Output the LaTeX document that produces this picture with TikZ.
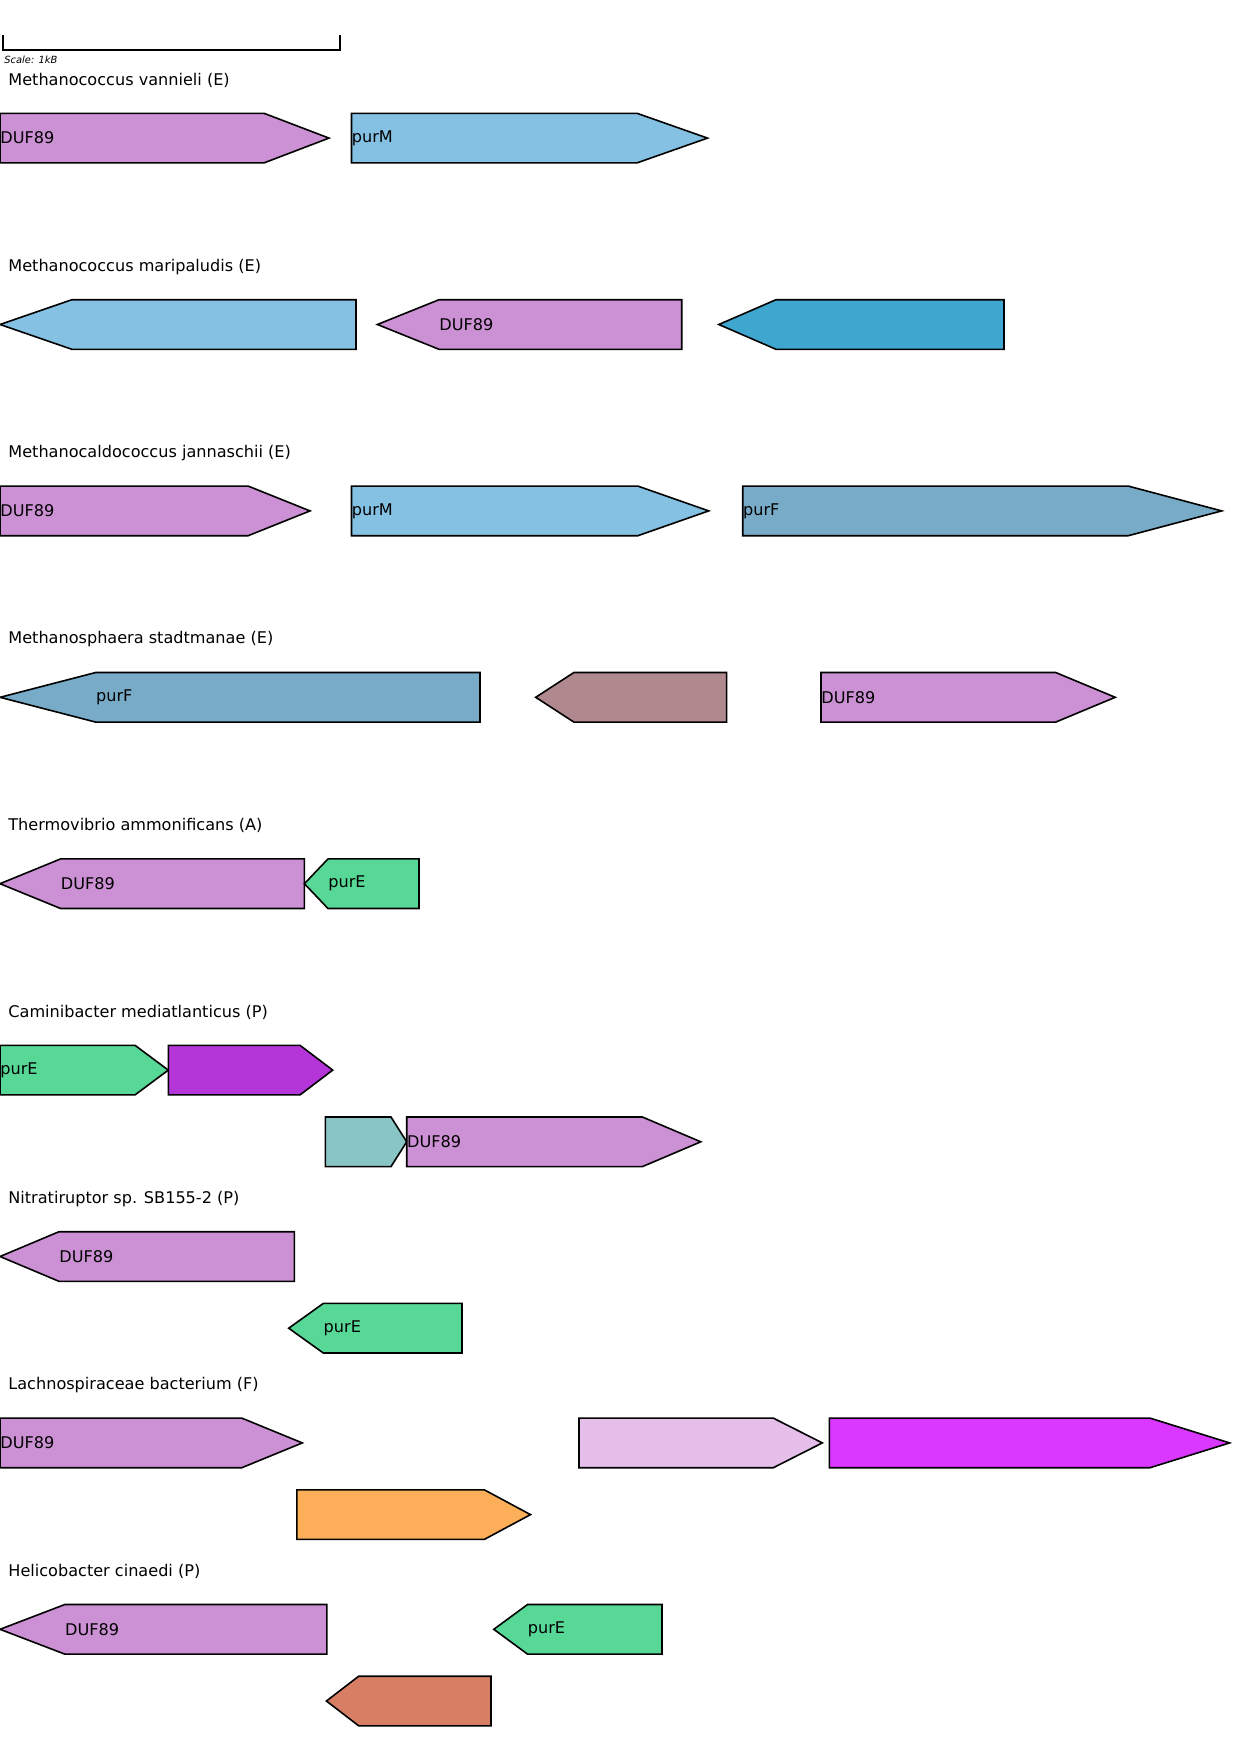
\documentclass[tikz,border=0pt]{standalone}
\usepackage{fontspec}
\setmainfont{DejaVu Sans}
\definecolor{duf}{HTML}{CC91D4}
\definecolor{purm}{HTML}{85C1E2}
\definecolor{deep}{HTML}{3FA7CF}
\definecolor{purf}{HTML}{77ABC8}
\definecolor{mauve}{HTML}{B0898F}
\definecolor{pure}{HTML}{58D896}
\definecolor{violet}{HTML}{B435D8}
\definecolor{teal}{HTML}{88C5C4}
\definecolor{lilac}{HTML}{E5BEE9}
\definecolor{magenta}{HTML}{DA38FF}
\definecolor{orange}{HTML}{FCAE58}
\definecolor{salmon}{HTML}{D67F65}
\begin{document}
\begin{tikzpicture}[x=0.5pt, y=-0.5pt, line join=miter, font=\fontsize{8.05}{9}\selectfont,
	gene/.style={draw=black, line width=0.8pt},
	lbl/.style={anchor=west, inner sep=0pt}]
		\useasboundingbox (0,0) rectangle (1232,1761);
		% scale bar
		\coordinate (S1) at (2.7,35);
		\coordinate (S2) at (340,35);
		\draw[line width=0.9pt] (S1)--(S1|-0,50)--(S2|-0,50)--(S2);
		\node[lbl, font=\fontsize{4.95}{6}\selectfont\itshape] (scale) at (4,60) {Scale: 1kB};
		% organisms
		\foreach \t [count=\i from 0] in {Methanococcus vannieli (E),Methanococcus maripaludis (E),
			Methanocaldococcus jannaschii (E),Methanosphaera stadtmanae (E),Thermovibrio ammonificans (A),
			Caminibacter mediatlanticus (P),Nitratiruptor sp. SB155-2 (P),Lachnospiraceae bacterium (F),
			Helicobacter cinaedi (P)}
		\node[lbl] (org\i) at (8,80.2+186.4*\i) {\t};
		% genes: start/body/tip/row/colour
		\foreach \s/\b/\e/\y/\c in {0/264/329/138.1/duf, 351.5/637/707.5/138.1/purm,
			356/71.9/0/324.5/purm, 681.7/439/377.4/324.5/duf, 1004/776/718.8/324.5/deep,
			0/248.2/310/510.9/duf, 351.5/637.9/708.7/510.9/purm, 742.7/1128.3/1221.7/510.9/purf,
			480/95.7/0/697.3/purf, 726.6/573.9/535.7/697.3/mauve, 821/1055.7/1115.2/697.3/duf,
			304.4/60.6/0/883.7/duf, 419/328/304.4/883.7/pure,
			0/135/168.3/1070.1/pure, 168.3/300/332.7/1070.1/violet,
			325.3/391/406.7/1141.8/teal, 406.7/642.4/700.8/1141.8/duf,
			294.3/59/0/1256.5/duf, 462/323.3/288.7/1328.2/pure,
			0/241.8/302.3/1442.9/duf, 579/773.3/822.3/1442.9/lilac, 829.3/1150/1229.6/1442.9/magenta,
			296.8/484.3/530.5/1514.6/orange,
			326.8/64.8/0/1629.3/duf, 662/527.5/493.8/1629.3/pure,
			491/358.7/326.4/1701/salmon}
		\draw[gene, fill=\c] (\s,\y-24.8)--(\b,\y-24.8)--(\e,\y)--(\b,\y+24.8)--(\s,\y+24.8)--cycle;
		% gene names
		\foreach \x/\y/\g/\n in {0/138.1/DUF89/vanDUF, 351.5/138.1/purM/vanPurM, 439/324.5/DUF89/mariDUF,
			0/510.9/DUF89/janDUF, 351.5/510.9/purM/janPurM, 742.7/510.9/purF/janPurF,
			95.7/697.3/purF/staPurF, 821/697.3/DUF89/staDUF, 60.6/883.7/DUF89/theDUF, 328/883.7/purE/thePurE,
			0/1070.1/purE/camPurE, 406.7/1141.8/DUF89/camDUF, 59/1256.5/DUF89/nitDUF, 323.3/1328.2/purE/nitPurE,
			0/1442.9/DUF89/lacDUF, 64.8/1629.3/DUF89/helDUF, 527.5/1629.3/purE/helPurE}
		\node[lbl] (\n) at (\x,\y) {\g};
		\end{tikzpicture}
\end{document}
